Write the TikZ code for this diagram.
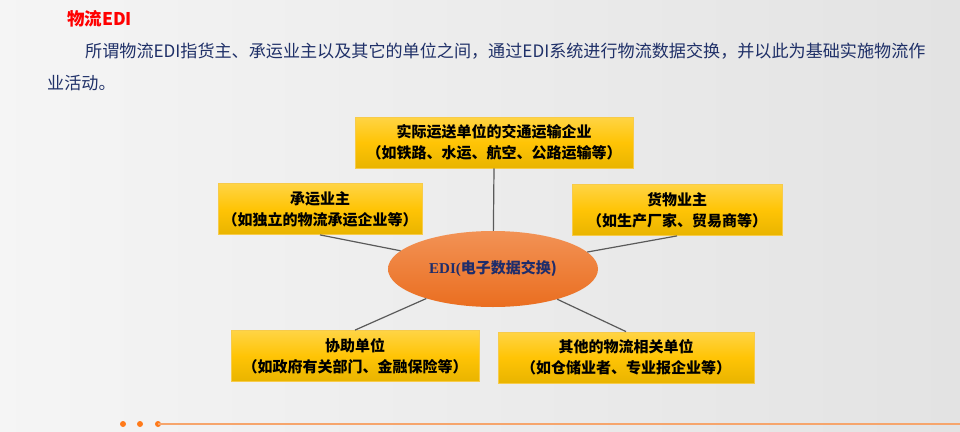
\documentclass[tikz,border=0pt]{standalone}
\usepackage{fontspec}
\newfontfamily\cjk{Noto Sans CJK SC}
\newfontfamily\serifbf{Liberation Serif}
\usetikzlibrary{shapes.geometric,positioning}
\definecolor{slidered}{HTML}{FF0000}
\definecolor{parablue}{HTML}{1F3068}
\definecolor{edinavy}{HTML}{1F2D6B}
\definecolor{boxtop}{HTML}{FFD445}
\definecolor{boxmid}{HTML}{FFC405}
\definecolor{boxbot}{HTML}{E9B400}
\definecolor{boxedge}{HTML}{F7CB4A}
\definecolor{hubtop}{HTML}{F29255}
\definecolor{hubbot}{HTML}{EA6E20}
\definecolor{linkgray}{HTML}{5A5A5A}
\definecolor{accent}{HTML}{FF7A1A}
\definecolor{accentline}{HTML}{F6A56C}

\begin{document}
\begin{tikzpicture}[x=1pt,y=-1pt,
    party/.style={draw=boxedge,line width=0.8pt,top color=boxtop,bottom color=boxbot,
      middle color=boxmid,minimum height=51pt,inner sep=0pt,align=center,
      font=\cjk\bfseries\fontsize{15}{21}\selectfont},
    hub/.style={ellipse,top color=hubtop,bottom color=hubbot,minimum width=210pt,
      minimum height=76pt,inner sep=0pt,text=edinavy,font=\bfseries\fontsize{15}{18}\selectfont},
    link/.style={draw=linkgray,line width=1.2pt}]
  % slide background
  \shade[left color=white!96!black,right color=white!89!black] (0,0) rectangle (960,431);
  \useasboundingbox (0,0) rectangle (960,431);

  % heading and text
  \node[anchor=base west,inner sep=0pt,text=slidered,font=\cjk\bfseries\fontsize{17.5}{20}\selectfont]
    (title) at (67,25) {物流EDI};
  \node[anchor=base west,inner sep=0pt,text=parablue,font=\cjk\fontsize{17.1}{22}\selectfont]
    (intro1) at (85,57) {所谓物流EDI指货主、承运业主以及其它的单位之间，通过EDI系统进行物流数据交换，并以此为基础实施物流作};
  \node[anchor=base west,inner sep=0pt,text=parablue,font=\cjk\fontsize{17.1}{22}\selectfont]
    (intro2) at (47,89) {业活动。};

  % parties round the hub
  \node[hub] (edi) at (493,269) {{\serifbf EDI(}{\cjk 电子数据交换)}};
  \node[party,minimum width=278pt] (carrier) at (494,142.5) {实际运送单位的交通运输企业\\（如铁路、水运、航空、公路运输等）};
  \node[party,minimum width=204pt] (shipper) at (320,209) {承运业主\\（如独立的物流承运企业等）};
  \node[party,minimum width=210pt] (owner) at (677,210) {货物业主\\（如生产厂家、贸易商等）};
  \node[party,minimum width=248pt] (assist) at (355,356) {协助单位\\（如政府有关部门、金融保险等）};
  \node[party,minimum width=256pt] (others) at (626,357.5) {其他的物流相关单位\\（如仓储业者、专业报企业等）};

  \draw[link] (edi)--(carrier.south); \draw[link] (edi)--(shipper.south);
  \draw[link] (edi)--(owner.south); \draw[link] (edi)--(assist.north);
  \draw[link] (edi)--(others.north);

  % footer line
  \fill[accent] (123,424) circle (3) (140,424) circle (3) (158,424) circle (3);
  \draw[accentline,line width=1.6pt] (158,424)--(960,424);
\end{tikzpicture}
\end{document}
